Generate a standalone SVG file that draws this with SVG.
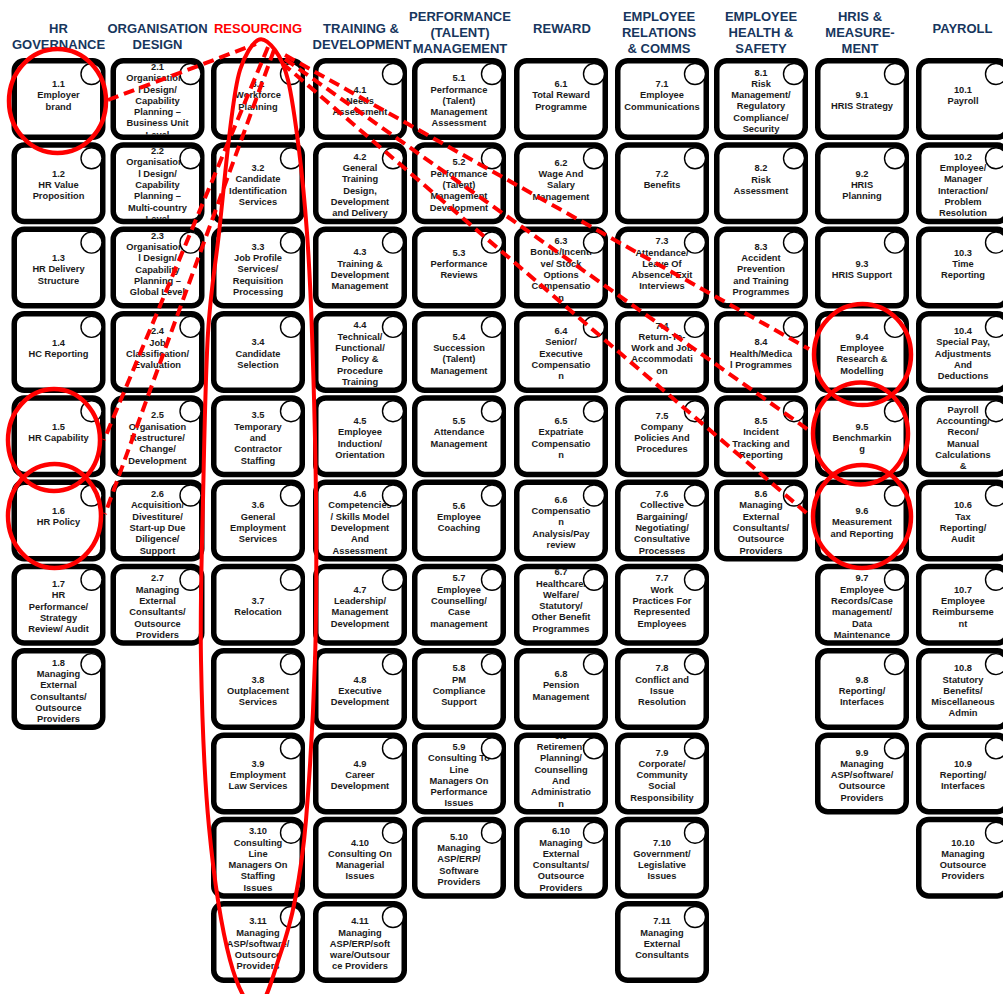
<svg xmlns="http://www.w3.org/2000/svg" xmlns:xlink="http://www.w3.org/1999/xlink" width="1003" height="994" viewBox="0 0 1003 994">
<style>
.t{font-family:"Liberation Sans",Arial,sans-serif;font-weight:bold;font-size:9.3px;fill:#1a1a1a;text-anchor:middle}
.h{font-family:"Liberation Sans",Arial,sans-serif;font-weight:bold;font-size:13px;fill:#17365d;text-anchor:middle}
.hr{fill:#ff0000}
.b{fill:#fff;stroke:#000;stroke-width:5.5}
.c{fill:#fff;stroke:#000;stroke-width:1.4}
.re{fill:none;stroke:#ff0000;stroke-width:4.5}
.rl{fill:none;stroke:#ff0000;stroke-width:4}
.rd{fill:none;stroke:#ff0000;stroke-width:4;stroke-dasharray:11 6}
</style>
<defs>
<rect id="bx" class="b" x="2.75" y="2.75" width="88.5" height="76.5" rx="10"/>
<circle id="ci" class="c" cx="80" cy="16" r="10.5"/>
<clipPath id="cp"><rect x="5.5" y="5.5" width="83" height="71" rx="6"/></clipPath>
</defs>
<rect width="1003" height="994" fill="#fff"/>
<g id="headers">
<text class="h" x="58.5" y="33">HR</text><text class="h" x="58.5" y="49">GOVERNANCE</text>
<text class="h" x="157.5" y="33">ORGANISATION</text><text class="h" x="157.5" y="49">DESIGN</text>
<text class="h hr" x="258" y="33">RESOURCING</text>
<text class="h" x="361" y="33">TRAINING &amp;</text><text class="h" x="362" y="49">DEVELOPMENT</text>
<text class="h" x="460" y="20.5">PERFORMANCE</text><text class="h" x="460" y="36.5">(TALENT)</text><text class="h" x="460" y="52.5">MANAGEMENT</text>
<text class="h" x="562" y="33">REWARD</text>
<text class="h" x="659" y="20.5">EMPLOYEE</text><text class="h" x="659" y="36.5">RELATIONS</text><text class="h" x="659" y="52.5">&amp; COMMS</text>
<text class="h" x="761" y="20.5">EMPLOYEE</text><text class="h" x="761" y="36.5">HEALTH &amp;</text><text class="h" x="761" y="52.5">SAFETY</text>
<text class="h" x="860" y="20.5">HRIS &amp;</text><text class="h" x="860" y="36.5">MEASURE-</text><text class="h" x="860" y="52.5">MENT</text>
<text class="h" x="962.5" y="33">PAYROLL</text>
</g>

<g id="n1-1" transform="translate(11.5,58)"><use href="#bx"/><text class="t" y="29" clip-path="url(#cp)"><tspan x="47">1.1</tspan><tspan x="47" dy="11.3">Employer</tspan><tspan x="47" dy="11.3">brand</tspan></text><use href="#ci"/></g>
<g id="n1-2" transform="translate(11.5,142.3)"><use href="#bx"/><text class="t" y="34.5" clip-path="url(#cp)"><tspan x="47">1.2</tspan><tspan x="47" dy="11.3">HR Value</tspan><tspan x="47" dy="11.3">Proposition</tspan></text><use href="#ci"/></g>
<g id="n1-3" transform="translate(11.5,226.6)"><use href="#bx"/><text class="t" y="34.5" clip-path="url(#cp)"><tspan x="47">1.3</tspan><tspan x="47" dy="11.3">HR Delivery</tspan><tspan x="47" dy="11.3">Structure</tspan></text><use href="#ci"/></g>
<g id="n1-4" transform="translate(11.5,310.9)"><use href="#bx"/><text class="t" y="34.65" clip-path="url(#cp)"><tspan x="47">1.4</tspan><tspan x="47" dy="11.3">HC Reporting</tspan></text><use href="#ci"/></g>
<g id="n1-5" transform="translate(11.5,395.2)"><use href="#bx"/><text class="t" y="34.65" clip-path="url(#cp)"><tspan x="47">1.5</tspan><tspan x="47" dy="11.3">HR Capability</tspan></text><use href="#ci"/></g>
<g id="n1-6" transform="translate(11.5,479.5)"><use href="#bx"/><text class="t" y="34.65" clip-path="url(#cp)"><tspan x="47">1.6</tspan><tspan x="47" dy="11.3">HR Policy</tspan></text><use href="#ci"/></g>
<g id="n1-7" transform="translate(11.5,563.8)"><use href="#bx"/><text class="t" y="23.2" clip-path="url(#cp)"><tspan x="47">1.7</tspan><tspan x="47" dy="11.3">HR</tspan><tspan x="47" dy="11.3">Performance/</tspan><tspan x="47" dy="11.3">Strategy</tspan><tspan x="47" dy="11.3">Review/ Audit</tspan></text><use href="#ci"/></g>
<g id="n1-8" transform="translate(11.5,648.1)"><use href="#bx"/><text class="t" y="17.55" clip-path="url(#cp)"><tspan x="47">1.8</tspan><tspan x="47" dy="11.3">Managing</tspan><tspan x="47" dy="11.3">External</tspan><tspan x="47" dy="11.3">Consultants/</tspan><tspan x="47" dy="11.3">Outsource</tspan><tspan x="47" dy="11.3">Providers</tspan></text><use href="#ci"/></g>

<g id="n2-1" transform="translate(110.5,58)"><use href="#bx"/><text class="t" y="11.9" clip-path="url(#cp)"><tspan x="47">2.1</tspan><tspan x="47" dy="11.3">Organisationa</tspan><tspan x="47" dy="11.3">l Design/</tspan><tspan x="47" dy="11.3">Capability</tspan><tspan x="47" dy="11.3">Planning –</tspan><tspan x="47" dy="11.3">Business Unit</tspan><tspan x="47" dy="11.3">Level</tspan></text><use href="#ci"/></g>
<g id="n2-2" transform="translate(110.5,142.3)"><use href="#bx"/><text class="t" y="11.9" clip-path="url(#cp)"><tspan x="47">2.2</tspan><tspan x="47" dy="11.3">Organisationa</tspan><tspan x="47" dy="11.3">l Design/</tspan><tspan x="47" dy="11.3">Capability</tspan><tspan x="47" dy="11.3">Planning –</tspan><tspan x="47" dy="11.3">Multi-country</tspan><tspan x="47" dy="11.3">Level</tspan></text><use href="#ci"/></g>
<g id="n2-3" transform="translate(110.5,226.6)"><use href="#bx"/><text class="t" y="12.05" clip-path="url(#cp)"><tspan x="47">2.3</tspan><tspan x="47" dy="11.3">Organisationa</tspan><tspan x="47" dy="11.3">l Design/</tspan><tspan x="47" dy="11.3">Capability</tspan><tspan x="47" dy="11.3">Planning –</tspan><tspan x="47" dy="11.3">Global Level</tspan></text><use href="#ci"/></g>
<g id="n2-4" transform="translate(110.5,310.9)"><use href="#bx"/><text class="t" y="23.35" clip-path="url(#cp)"><tspan x="47">2.4</tspan><tspan x="47" dy="11.3">Job</tspan><tspan x="47" dy="11.3">Classification/</tspan><tspan x="47" dy="11.3">Evaluation</tspan></text><use href="#ci"/></g>
<g id="n2-5" transform="translate(110.5,395.2)"><use href="#bx"/><text class="t" y="23.2" clip-path="url(#cp)"><tspan x="47">2.5</tspan><tspan x="47" dy="11.3">Organisation</tspan><tspan x="47" dy="11.3">Restructure/</tspan><tspan x="47" dy="11.3">Change/</tspan><tspan x="47" dy="11.3">Development</tspan></text><use href="#ci"/></g>
<g id="n2-6" transform="translate(110.5,479.5)"><use href="#bx"/><text class="t" y="17.55" clip-path="url(#cp)"><tspan x="47">2.6</tspan><tspan x="47" dy="11.3">Acquisition/</tspan><tspan x="47" dy="11.3">Divestiture/</tspan><tspan x="47" dy="11.3">Start-up Due</tspan><tspan x="47" dy="11.3">Diligence/</tspan><tspan x="47" dy="11.3">Support</tspan></text><use href="#ci"/></g>
<g id="n2-7" transform="translate(110.5,563.8)"><use href="#bx"/><text class="t" y="17.55" clip-path="url(#cp)"><tspan x="47">2.7</tspan><tspan x="47" dy="11.3">Managing</tspan><tspan x="47" dy="11.3">External</tspan><tspan x="47" dy="11.3">Consultants/</tspan><tspan x="47" dy="11.3">Outsource</tspan><tspan x="47" dy="11.3">Providers</tspan></text><use href="#ci"/></g>

<g id="n3-1" transform="translate(211,58)"><use href="#bx"/><text class="t" y="29" clip-path="url(#cp)"><tspan x="47">3.1</tspan><tspan x="47" dy="11.3">Workforce</tspan><tspan x="47" dy="11.3">Planning</tspan></text><use href="#ci"/></g>
<g id="n3-2" transform="translate(211,142.3)"><use href="#bx"/><text class="t" y="28.85" clip-path="url(#cp)"><tspan x="47">3.2</tspan><tspan x="47" dy="11.3">Candidate</tspan><tspan x="47" dy="11.3">Identification</tspan><tspan x="47" dy="11.3">Services</tspan></text><use href="#ci"/></g>
<g id="n3-3" transform="translate(211,226.6)"><use href="#bx"/><text class="t" y="23.2" clip-path="url(#cp)"><tspan x="47">3.3</tspan><tspan x="47" dy="11.3">Job Profile</tspan><tspan x="47" dy="11.3">Services/</tspan><tspan x="47" dy="11.3">Requisition</tspan><tspan x="47" dy="11.3">Processing</tspan></text><use href="#ci"/></g>
<g id="n3-4" transform="translate(211,310.9)"><use href="#bx"/><text class="t" y="34.5" clip-path="url(#cp)"><tspan x="47">3.4</tspan><tspan x="47" dy="11.3">Candidate</tspan><tspan x="47" dy="11.3">Selection</tspan></text><use href="#ci"/></g>
<g id="n3-5" transform="translate(211,395.2)"><use href="#bx"/><text class="t" y="23.2" clip-path="url(#cp)"><tspan x="47">3.5</tspan><tspan x="47" dy="11.3">Temporary</tspan><tspan x="47" dy="11.3">and</tspan><tspan x="47" dy="11.3">Contractor</tspan><tspan x="47" dy="11.3">Staffing</tspan></text><use href="#ci"/></g>
<g id="n3-6" transform="translate(211,479.5)"><use href="#bx"/><text class="t" y="28.85" clip-path="url(#cp)"><tspan x="47">3.6</tspan><tspan x="47" dy="11.3">General</tspan><tspan x="47" dy="11.3">Employment</tspan><tspan x="47" dy="11.3">Services</tspan></text><use href="#ci"/></g>
<g id="n3-7" transform="translate(211,563.8)"><use href="#bx"/><text class="t" y="40.15" clip-path="url(#cp)"><tspan x="47">3.7</tspan><tspan x="47" dy="11.3">Relocation</tspan></text><use href="#ci"/></g>
<g id="n3-8" transform="translate(211,648.1)"><use href="#bx"/><text class="t" y="34.5" clip-path="url(#cp)"><tspan x="47">3.8</tspan><tspan x="47" dy="11.3">Outplacement</tspan><tspan x="47" dy="11.3">Services</tspan></text><use href="#ci"/></g>
<g id="n3-9" transform="translate(211,732.4)"><use href="#bx"/><text class="t" y="34.5" clip-path="url(#cp)"><tspan x="47">3.9</tspan><tspan x="47" dy="11.3">Employment</tspan><tspan x="47" dy="11.3">Law Services</tspan></text><use href="#ci"/></g>
<g id="n3-10" transform="translate(211,816.7)"><use href="#bx"/><text class="t" y="17.55" clip-path="url(#cp)"><tspan x="47">3.10</tspan><tspan x="47" dy="11.3">Consulting</tspan><tspan x="47" dy="11.3">Line</tspan><tspan x="47" dy="11.3">Managers On</tspan><tspan x="47" dy="11.3">Staffing</tspan><tspan x="47" dy="11.3">Issues</tspan></text><use href="#ci"/></g>
<g id="n3-11" transform="translate(211,901)"><use href="#bx"/><text class="t" y="23.2" clip-path="url(#cp)"><tspan x="47">3.11</tspan><tspan x="47" dy="11.3">Managing</tspan><tspan x="47" dy="11.3">ASP/software/</tspan><tspan x="47" dy="11.3">Outsource</tspan><tspan x="47" dy="11.3">Providers</tspan></text><use href="#ci"/></g>

<g id="n4-1" transform="translate(313,58)"><use href="#bx"/><text class="t" y="34.5" clip-path="url(#cp)"><tspan x="47">4.1</tspan><tspan x="47" dy="11.3">Needs</tspan><tspan x="47" dy="11.3">Assessment</tspan></text><use href="#ci"/></g>
<g id="n4-2" transform="translate(313,142.3)"><use href="#bx"/><text class="t" y="17.55" clip-path="url(#cp)"><tspan x="47">4.2</tspan><tspan x="47" dy="11.3">General</tspan><tspan x="47" dy="11.3">Training</tspan><tspan x="47" dy="11.3">Design,</tspan><tspan x="47" dy="11.3">Development</tspan><tspan x="47" dy="11.3">and Delivery</tspan></text><use href="#ci"/></g>
<g id="n4-3" transform="translate(313,226.6)"><use href="#bx"/><text class="t" y="28.85" clip-path="url(#cp)"><tspan x="47">4.3</tspan><tspan x="47" dy="11.3">Training &amp;</tspan><tspan x="47" dy="11.3">Development</tspan><tspan x="47" dy="11.3">Management</tspan></text><use href="#ci"/></g>
<g id="n4-4" transform="translate(313,310.9)"><use href="#bx"/><text class="t" y="17.55" clip-path="url(#cp)"><tspan x="47">4.4</tspan><tspan x="47" dy="11.3">Technical/</tspan><tspan x="47" dy="11.3">Functional/</tspan><tspan x="47" dy="11.3">Policy &amp;</tspan><tspan x="47" dy="11.3">Procedure</tspan><tspan x="47" dy="11.3">Training</tspan></text><use href="#ci"/></g>
<g id="n4-5" transform="translate(313,395.2)"><use href="#bx"/><text class="t" y="28.85" clip-path="url(#cp)"><tspan x="47">4.5</tspan><tspan x="47" dy="11.3">Employee</tspan><tspan x="47" dy="11.3">Induction/</tspan><tspan x="47" dy="11.3">Orientation</tspan></text><use href="#ci"/></g>
<g id="n4-6" transform="translate(313,479.5)"><use href="#bx"/><text class="t" y="17.55" clip-path="url(#cp)"><tspan x="47">4.6</tspan><tspan x="47" dy="11.3">Competencies</tspan><tspan x="47" dy="11.3">/ Skills Model</tspan><tspan x="47" dy="11.3">Development</tspan><tspan x="47" dy="11.3">And</tspan><tspan x="47" dy="11.3">Assessment</tspan></text><use href="#ci"/></g>
<g id="n4-7" transform="translate(313,563.8)"><use href="#bx"/><text class="t" y="28.85" clip-path="url(#cp)"><tspan x="47">4.7</tspan><tspan x="47" dy="11.3">Leadership/</tspan><tspan x="47" dy="11.3">Management</tspan><tspan x="47" dy="11.3">Development</tspan></text><use href="#ci"/></g>
<g id="n4-8" transform="translate(313,648.1)"><use href="#bx"/><text class="t" y="34.5" clip-path="url(#cp)"><tspan x="47">4.8</tspan><tspan x="47" dy="11.3">Executive</tspan><tspan x="47" dy="11.3">Development</tspan></text><use href="#ci"/></g>
<g id="n4-9" transform="translate(313,732.4)"><use href="#bx"/><text class="t" y="34.5" clip-path="url(#cp)"><tspan x="47">4.9</tspan><tspan x="47" dy="11.3">Career</tspan><tspan x="47" dy="11.3">Development</tspan></text><use href="#ci"/></g>
<g id="n4-10" transform="translate(313,816.7)"><use href="#bx"/><text class="t" y="28.85" clip-path="url(#cp)"><tspan x="47">4.10</tspan><tspan x="47" dy="11.3">Consulting On</tspan><tspan x="47" dy="11.3">Managerial</tspan><tspan x="47" dy="11.3">Issues</tspan></text><use href="#ci"/></g>
<g id="n4-11" transform="translate(313,901)"><use href="#bx"/><text class="t" y="23.2" clip-path="url(#cp)"><tspan x="47">4.11</tspan><tspan x="47" dy="11.3">Managing</tspan><tspan x="47" dy="11.3">ASP/ERP/soft</tspan><tspan x="47" dy="11.3">ware/Outsour</tspan><tspan x="47" dy="11.3">ce Providers</tspan></text><use href="#ci"/></g>

<g id="n5-1" transform="translate(412,58)"><use href="#bx"/><text class="t" y="23.2" clip-path="url(#cp)"><tspan x="47">5.1</tspan><tspan x="47" dy="11.3">Performance</tspan><tspan x="47" dy="11.3">(Talent)</tspan><tspan x="47" dy="11.3">Management</tspan><tspan x="47" dy="11.3">Assessment</tspan></text><use href="#ci"/></g>
<g id="n5-2" transform="translate(412,142.3)"><use href="#bx"/><text class="t" y="23.2" clip-path="url(#cp)"><tspan x="47">5.2</tspan><tspan x="47" dy="11.3">Performance</tspan><tspan x="47" dy="11.3">(Talent)</tspan><tspan x="47" dy="11.3">Management</tspan><tspan x="47" dy="11.3">Development</tspan></text><use href="#ci"/></g>
<g id="n5-3" transform="translate(412,226.6)"><use href="#bx"/><text class="t" y="29" clip-path="url(#cp)"><tspan x="47">5.3</tspan><tspan x="47" dy="11.3">Performance</tspan><tspan x="47" dy="11.3">Reviews</tspan></text><use href="#ci"/></g>
<g id="n5-4" transform="translate(412,310.9)"><use href="#bx"/><text class="t" y="28.85" clip-path="url(#cp)"><tspan x="47">5.4</tspan><tspan x="47" dy="11.3">Succession</tspan><tspan x="47" dy="11.3">(Talent)</tspan><tspan x="47" dy="11.3">Management</tspan></text><use href="#ci"/></g>
<g id="n5-5" transform="translate(412,395.2)"><use href="#bx"/><text class="t" y="29" clip-path="url(#cp)"><tspan x="47">5.5</tspan><tspan x="47" dy="11.3">Attendance</tspan><tspan x="47" dy="11.3">Management</tspan></text><use href="#ci"/></g>
<g id="n5-6" transform="translate(412,479.5)"><use href="#bx"/><text class="t" y="29" clip-path="url(#cp)"><tspan x="47">5.6</tspan><tspan x="47" dy="11.3">Employee</tspan><tspan x="47" dy="11.3">Coaching</tspan></text><use href="#ci"/></g>
<g id="n5-7" transform="translate(412,563.8)"><use href="#bx"/><text class="t" y="17.7" clip-path="url(#cp)"><tspan x="47">5.7</tspan><tspan x="47" dy="11.3">Employee</tspan><tspan x="47" dy="11.3">Counselling/</tspan><tspan x="47" dy="11.3">Case</tspan><tspan x="47" dy="11.3">management</tspan></text><use href="#ci"/></g>
<g id="n5-8" transform="translate(412,648.1)"><use href="#bx"/><text class="t" y="23.35" clip-path="url(#cp)"><tspan x="47">5.8</tspan><tspan x="47" dy="11.3">PM</tspan><tspan x="47" dy="11.3">Compliance</tspan><tspan x="47" dy="11.3">Support</tspan></text><use href="#ci"/></g>
<g id="n5-9" transform="translate(412,732.4)"><use href="#bx"/><text class="t" y="17.55" clip-path="url(#cp)"><tspan x="47">5.9</tspan><tspan x="47" dy="11.3">Consulting To</tspan><tspan x="47" dy="11.3">Line</tspan><tspan x="47" dy="11.3">Managers On</tspan><tspan x="47" dy="11.3">Performance</tspan><tspan x="47" dy="11.3">Issues</tspan></text><use href="#ci"/></g>
<g id="n5-10" transform="translate(412,816.7)"><use href="#bx"/><text class="t" y="23.2" clip-path="url(#cp)"><tspan x="47">5.10</tspan><tspan x="47" dy="11.3">Managing</tspan><tspan x="47" dy="11.3">ASP/ERP/</tspan><tspan x="47" dy="11.3">Software</tspan><tspan x="47" dy="11.3">Providers</tspan></text><use href="#ci"/></g>

<g id="n6-1" transform="translate(514,58)"><use href="#bx"/><text class="t" y="29" clip-path="url(#cp)"><tspan x="47">6.1</tspan><tspan x="47" dy="11.3">Total Reward</tspan><tspan x="47" dy="11.3">Programme</tspan></text><use href="#ci"/></g>
<g id="n6-2" transform="translate(514,142.3)"><use href="#bx"/><text class="t" y="23.35" clip-path="url(#cp)"><tspan x="47">6.2</tspan><tspan x="47" dy="11.3">Wage And</tspan><tspan x="47" dy="11.3">Salary</tspan><tspan x="47" dy="11.3">Management</tspan></text><use href="#ci"/></g>
<g id="n6-3" transform="translate(514,226.6)"><use href="#bx"/><text class="t" y="17.55" clip-path="url(#cp)"><tspan x="47">6.3</tspan><tspan x="47" dy="11.3">Bonus/Incenti</tspan><tspan x="47" dy="11.3">ve/ Stock</tspan><tspan x="47" dy="11.3">Options</tspan><tspan x="47" dy="11.3">Compensatio</tspan><tspan x="47" dy="11.3">n</tspan></text><use href="#ci"/></g>
<g id="n6-4" transform="translate(514,310.9)"><use href="#bx"/><text class="t" y="23.2" clip-path="url(#cp)"><tspan x="47">6.4</tspan><tspan x="47" dy="11.3">Senior/</tspan><tspan x="47" dy="11.3">Executive</tspan><tspan x="47" dy="11.3">Compensatio</tspan><tspan x="47" dy="11.3">n</tspan></text><use href="#ci"/></g>
<g id="n6-5" transform="translate(514,395.2)"><use href="#bx"/><text class="t" y="28.85" clip-path="url(#cp)"><tspan x="47">6.5</tspan><tspan x="47" dy="11.3">Expatriate</tspan><tspan x="47" dy="11.3">Compensatio</tspan><tspan x="47" dy="11.3">n</tspan></text><use href="#ci"/></g>
<g id="n6-6" transform="translate(514,479.5)"><use href="#bx"/><text class="t" y="23.2" clip-path="url(#cp)"><tspan x="47">6.6</tspan><tspan x="47" dy="11.3">Compensatio</tspan><tspan x="47" dy="11.3">n</tspan><tspan x="47" dy="11.3">Analysis/Pay</tspan><tspan x="47" dy="11.3">review</tspan></text><use href="#ci"/></g>
<g id="n6-7" transform="translate(514,563.8)"><use href="#bx"/><text class="t" y="11.5" clip-path="url(#cp)"><tspan x="47">6.7</tspan><tspan x="47" dy="11.3">Healthcare/</tspan><tspan x="47" dy="11.3">Welfare/</tspan><tspan x="47" dy="11.3">Statutory/</tspan><tspan x="47" dy="11.3">Other Benefit</tspan><tspan x="47" dy="11.3">Programmes</tspan></text><use href="#ci"/></g>
<g id="n6-8" transform="translate(514,648.1)"><use href="#bx"/><text class="t" y="29" clip-path="url(#cp)"><tspan x="47">6.8</tspan><tspan x="47" dy="11.3">Pension</tspan><tspan x="47" dy="11.3">Management</tspan></text><use href="#ci"/></g>
<g id="n6-9" transform="translate(514,732.4)"><use href="#bx"/><text class="t" y="6.4" clip-path="url(#cp)"><tspan x="47">6.9</tspan><tspan x="47" dy="11.3">Retirement</tspan><tspan x="47" dy="11.3">Planning/</tspan><tspan x="47" dy="11.3">Counselling</tspan><tspan x="47" dy="11.3">And</tspan><tspan x="47" dy="11.3">Administratio</tspan><tspan x="47" dy="11.3">n</tspan></text><use href="#ci"/></g>
<g id="n6-10" transform="translate(514,816.7)"><use href="#bx"/><text class="t" y="17.55" clip-path="url(#cp)"><tspan x="47">6.10</tspan><tspan x="47" dy="11.3">Managing</tspan><tspan x="47" dy="11.3">External</tspan><tspan x="47" dy="11.3">Consultants/</tspan><tspan x="47" dy="11.3">Outsource</tspan><tspan x="47" dy="11.3">Providers</tspan></text><use href="#ci"/></g>

<g id="n7-1" transform="translate(615,58)"><use href="#bx"/><text class="t" y="29" clip-path="url(#cp)"><tspan x="47">7.1</tspan><tspan x="47" dy="11.3">Employee</tspan><tspan x="47" dy="11.3">Communications</tspan></text><use href="#ci"/></g>
<g id="n7-2" transform="translate(615,142.3)"><use href="#bx"/><text class="t" y="34.65" clip-path="url(#cp)"><tspan x="47">7.2</tspan><tspan x="47" dy="11.3">Benefits</tspan></text><use href="#ci"/></g>
<g id="n7-3" transform="translate(615,226.6)"><use href="#bx"/><text class="t" y="17.7" clip-path="url(#cp)"><tspan x="47">7.3</tspan><tspan x="47" dy="11.3">Attendance/</tspan><tspan x="47" dy="11.3">Leave Of</tspan><tspan x="47" dy="11.3">Absence/ Exit</tspan><tspan x="47" dy="11.3">Interviews</tspan></text><use href="#ci"/></g>
<g id="n7-4" transform="translate(615,310.9)"><use href="#bx"/><text class="t" y="17.7" clip-path="url(#cp)"><tspan x="47">7.4</tspan><tspan x="47" dy="11.3">Return-To-</tspan><tspan x="47" dy="11.3">Work and Job</tspan><tspan x="47" dy="11.3">Accommodati</tspan><tspan x="47" dy="11.3">on</tspan></text><use href="#ci"/></g>
<g id="n7-5" transform="translate(615,395.2)"><use href="#bx"/><text class="t" y="23.35" clip-path="url(#cp)"><tspan x="47">7.5</tspan><tspan x="47" dy="11.3">Company</tspan><tspan x="47" dy="11.3">Policies And</tspan><tspan x="47" dy="11.3">Procedures</tspan></text><use href="#ci"/></g>
<g id="n7-6" transform="translate(615,479.5)"><use href="#bx"/><text class="t" y="17.55" clip-path="url(#cp)"><tspan x="47">7.6</tspan><tspan x="47" dy="11.3">Collective</tspan><tspan x="47" dy="11.3">Bargaining/</tspan><tspan x="47" dy="11.3">Negotiating/</tspan><tspan x="47" dy="11.3">Consultative</tspan><tspan x="47" dy="11.3">Processes</tspan></text><use href="#ci"/></g>
<g id="n7-7" transform="translate(615,563.8)"><use href="#bx"/><text class="t" y="17.7" clip-path="url(#cp)"><tspan x="47">7.7</tspan><tspan x="47" dy="11.3">Work</tspan><tspan x="47" dy="11.3">Practices For</tspan><tspan x="47" dy="11.3">Represented</tspan><tspan x="47" dy="11.3">Employees</tspan></text><use href="#ci"/></g>
<g id="n7-8" transform="translate(615,648.1)"><use href="#bx"/><text class="t" y="23.35" clip-path="url(#cp)"><tspan x="47">7.8</tspan><tspan x="47" dy="11.3">Conflict and</tspan><tspan x="47" dy="11.3">Issue</tspan><tspan x="47" dy="11.3">Resolution</tspan></text><use href="#ci"/></g>
<g id="n7-9" transform="translate(615,732.4)"><use href="#bx"/><text class="t" y="23.2" clip-path="url(#cp)"><tspan x="47">7.9</tspan><tspan x="47" dy="11.3">Corporate/</tspan><tspan x="47" dy="11.3">Community</tspan><tspan x="47" dy="11.3">Social</tspan><tspan x="47" dy="11.3">Responsibility</tspan></text><use href="#ci"/></g>
<g id="n7-10" transform="translate(615,816.7)"><use href="#bx"/><text class="t" y="28.85" clip-path="url(#cp)"><tspan x="47">7.10</tspan><tspan x="47" dy="11.3">Government/</tspan><tspan x="47" dy="11.3">Legislative</tspan><tspan x="47" dy="11.3">Issues</tspan></text><use href="#ci"/></g>
<g id="n7-11" transform="translate(615,901)"><use href="#bx"/><text class="t" y="23.35" clip-path="url(#cp)"><tspan x="47">7.11</tspan><tspan x="47" dy="11.3">Managing</tspan><tspan x="47" dy="11.3">External</tspan><tspan x="47" dy="11.3">Consultants</tspan></text><use href="#ci"/></g>

<g id="n8-1" transform="translate(714,58)"><use href="#bx"/><text class="t" y="17.55" clip-path="url(#cp)"><tspan x="47">8.1</tspan><tspan x="47" dy="11.3">Risk</tspan><tspan x="47" dy="11.3">Management/</tspan><tspan x="47" dy="11.3">Regulatory</tspan><tspan x="47" dy="11.3">Compliance/</tspan><tspan x="47" dy="11.3">Security</tspan></text><use href="#ci"/></g>
<g id="n8-2" transform="translate(714,142.3)"><use href="#bx"/><text class="t" y="29" clip-path="url(#cp)"><tspan x="47">8.2</tspan><tspan x="47" dy="11.3">Risk</tspan><tspan x="47" dy="11.3">Assessment</tspan></text><use href="#ci"/></g>
<g id="n8-3" transform="translate(714,226.6)"><use href="#bx"/><text class="t" y="23.2" clip-path="url(#cp)"><tspan x="47">8.3</tspan><tspan x="47" dy="11.3">Accident</tspan><tspan x="47" dy="11.3">Prevention</tspan><tspan x="47" dy="11.3">and Training</tspan><tspan x="47" dy="11.3">Programmes</tspan></text><use href="#ci"/></g>
<g id="n8-4" transform="translate(714,310.9)"><use href="#bx"/><text class="t" y="34.5" clip-path="url(#cp)"><tspan x="47">8.4</tspan><tspan x="47" dy="11.3">Health/Medica</tspan><tspan x="47" dy="11.3">l Programmes</tspan></text><use href="#ci"/></g>
<g id="n8-5" transform="translate(714,395.2)"><use href="#bx"/><text class="t" y="28.85" clip-path="url(#cp)"><tspan x="47">8.5</tspan><tspan x="47" dy="11.3">Incident</tspan><tspan x="47" dy="11.3">Tracking and</tspan><tspan x="47" dy="11.3">Reporting</tspan></text><use href="#ci"/></g>
<g id="n8-6" transform="translate(714,479.5)"><use href="#bx"/><text class="t" y="17.55" clip-path="url(#cp)"><tspan x="47">8.6</tspan><tspan x="47" dy="11.3">Managing</tspan><tspan x="47" dy="11.3">External</tspan><tspan x="47" dy="11.3">Consultants/</tspan><tspan x="47" dy="11.3">Outsource</tspan><tspan x="47" dy="11.3">Providers</tspan></text><use href="#ci"/></g>

<g id="n9-1" transform="translate(815,58)"><use href="#bx"/><text class="t" y="40.15" clip-path="url(#cp)"><tspan x="47">9.1</tspan><tspan x="47" dy="11.3">HRIS Strategy</tspan></text><use href="#ci"/></g>
<g id="n9-2" transform="translate(815,142.3)"><use href="#bx"/><text class="t" y="34.5" clip-path="url(#cp)"><tspan x="47">9.2</tspan><tspan x="47" dy="11.3">HRIS</tspan><tspan x="47" dy="11.3">Planning</tspan></text><use href="#ci"/></g>
<g id="n9-3" transform="translate(815,226.6)"><use href="#bx"/><text class="t" y="40.15" clip-path="url(#cp)"><tspan x="47">9.3</tspan><tspan x="47" dy="11.3">HRIS Support</tspan></text><use href="#ci"/></g>
<g id="n9-4" transform="translate(815,310.9)"><use href="#bx"/><text class="t" y="28.85" clip-path="url(#cp)"><tspan x="47">9.4</tspan><tspan x="47" dy="11.3">Employee</tspan><tspan x="47" dy="11.3">Research &amp;</tspan><tspan x="47" dy="11.3">Modelling</tspan></text><use href="#ci"/></g>
<g id="n9-5" transform="translate(815,395.2)"><use href="#bx"/><text class="t" y="34.5" clip-path="url(#cp)"><tspan x="47">9.5</tspan><tspan x="47" dy="11.3">Benchmarkin</tspan><tspan x="47" dy="11.3">g</tspan></text><use href="#ci"/></g>
<g id="n9-6" transform="translate(815,479.5)"><use href="#bx"/><text class="t" y="34.5" clip-path="url(#cp)"><tspan x="47">9.6</tspan><tspan x="47" dy="11.3">Measurement</tspan><tspan x="47" dy="11.3">and Reporting</tspan></text><use href="#ci"/></g>
<g id="n9-7" transform="translate(815,563.8)"><use href="#bx"/><text class="t" y="17.55" clip-path="url(#cp)"><tspan x="47">9.7</tspan><tspan x="47" dy="11.3">Employee</tspan><tspan x="47" dy="11.3">Records/Case</tspan><tspan x="47" dy="11.3">management/</tspan><tspan x="47" dy="11.3">Data</tspan><tspan x="47" dy="11.3">Maintenance</tspan></text><use href="#ci"/></g>
<g id="n9-8" transform="translate(815,648.1)"><use href="#bx"/><text class="t" y="34.5" clip-path="url(#cp)"><tspan x="47">9.8</tspan><tspan x="47" dy="11.3">Reporting/</tspan><tspan x="47" dy="11.3">Interfaces</tspan></text><use href="#ci"/></g>
<g id="n9-9" transform="translate(815,732.4)"><use href="#bx"/><text class="t" y="23.2" clip-path="url(#cp)"><tspan x="47">9.9</tspan><tspan x="47" dy="11.3">Managing</tspan><tspan x="47" dy="11.3">ASP/software/</tspan><tspan x="47" dy="11.3">Outsource</tspan><tspan x="47" dy="11.3">Providers</tspan></text><use href="#ci"/></g>

<g id="n10-1" transform="translate(916,58)"><use href="#bx"/><text class="t" y="34.65" clip-path="url(#cp)"><tspan x="47">10.1</tspan><tspan x="47" dy="11.3">Payroll</tspan></text><use href="#ci"/></g>
<g id="n10-2" transform="translate(916,142.3)"><use href="#bx"/><text class="t" y="17.55" clip-path="url(#cp)"><tspan x="47">10.2</tspan><tspan x="47" dy="11.3">Employee/</tspan><tspan x="47" dy="11.3">Manager</tspan><tspan x="47" dy="11.3">Interaction/</tspan><tspan x="47" dy="11.3">Problem</tspan><tspan x="47" dy="11.3">Resolution</tspan></text><use href="#ci"/></g>
<g id="n10-3" transform="translate(916,226.6)"><use href="#bx"/><text class="t" y="29" clip-path="url(#cp)"><tspan x="47">10.3</tspan><tspan x="47" dy="11.3">Time</tspan><tspan x="47" dy="11.3">Reporting</tspan></text><use href="#ci"/></g>
<g id="n10-4" transform="translate(916,310.9)"><use href="#bx"/><text class="t" y="23.2" clip-path="url(#cp)"><tspan x="47">10.4</tspan><tspan x="47" dy="11.3">Special Pay,</tspan><tspan x="47" dy="11.3">Adjustments</tspan><tspan x="47" dy="11.3">And</tspan><tspan x="47" dy="11.3">Deductions</tspan></text><use href="#ci"/></g>
<g id="n10-5" transform="translate(916,395.2)"><use href="#bx"/><text class="t" y="6.25" clip-path="url(#cp)"><tspan x="47">10.5</tspan><tspan x="47" dy="11.3">Payroll</tspan><tspan x="47" dy="11.3">Accounting/</tspan><tspan x="47" dy="11.3">Recon/</tspan><tspan x="47" dy="11.3">Manual</tspan><tspan x="47" dy="11.3">Calculations</tspan><tspan x="47" dy="11.3">&amp;</tspan></text><use href="#ci"/></g>
<g id="n10-6" transform="translate(916,479.5)"><use href="#bx"/><text class="t" y="28.85" clip-path="url(#cp)"><tspan x="47">10.6</tspan><tspan x="47" dy="11.3">Tax</tspan><tspan x="47" dy="11.3">Reporting/</tspan><tspan x="47" dy="11.3">Audit</tspan></text><use href="#ci"/></g>
<g id="n10-7" transform="translate(916,563.8)"><use href="#bx"/><text class="t" y="28.85" clip-path="url(#cp)"><tspan x="47">10.7</tspan><tspan x="47" dy="11.3">Employee</tspan><tspan x="47" dy="11.3">Reimburseme</tspan><tspan x="47" dy="11.3">nt</tspan></text><use href="#ci"/></g>
<g id="n10-8" transform="translate(916,648.1)"><use href="#bx"/><text class="t" y="23.2" clip-path="url(#cp)"><tspan x="47">10.8</tspan><tspan x="47" dy="11.3">Statutory</tspan><tspan x="47" dy="11.3">Benefits/</tspan><tspan x="47" dy="11.3">Miscellaneous</tspan><tspan x="47" dy="11.3">Admin</tspan></text><use href="#ci"/></g>
<g id="n10-9" transform="translate(916,732.4)"><use href="#bx"/><text class="t" y="34.5" clip-path="url(#cp)"><tspan x="47">10.9</tspan><tspan x="47" dy="11.3">Reporting/</tspan><tspan x="47" dy="11.3">Interfaces</tspan></text><use href="#ci"/></g>
<g id="n10-10" transform="translate(916,816.7)"><use href="#bx"/><text class="t" y="28.85" clip-path="url(#cp)"><tspan x="47">10.10</tspan><tspan x="47" dy="11.3">Managing</tspan><tspan x="47" dy="11.3">Outsource</tspan><tspan x="47" dy="11.3">Providers</tspan></text><use href="#ci"/></g>

<g id="connectors">
<ellipse class="re" cx="57.5" cy="101" rx="48.5" ry="52"/>
<ellipse class="re" cx="54" cy="440" rx="46" ry="51"/>
<ellipse class="re" cx="54.5" cy="516" rx="46.5" ry="52"/>
<ellipse class="re" cx="862.5" cy="354.5" rx="48.5" ry="50.5"/>
<ellipse class="re" cx="860.5" cy="433.5" rx="47.5" ry="51"/>
<ellipse class="re" cx="862" cy="516.5" rx="49" ry="51.5"/>
<path class="rl" d="M258,40 C252.2,43.3 244.7,55 240,70 C235.3,85 233.5,102.8 230,130 C226.5,157.2 222.7,199.2 219,233 C215.3,266.8 210.7,288.5 208,333 C205.3,377.5 204.2,445.5 203,500 C201.8,554.5 200,605.5 201,660 C202,714.5 204.2,777 209,827 C213.8,877 222,929.8 230,960 C238,990.2 248.7,1008.8 257,1008 C265.3,1007.2 273.7,973 280,955 C286.3,937 290.7,922.5 295,900 C299.3,877.5 302.7,860 306,820 C309.3,780 313.3,713.3 315,660 C316.7,606.7 316.5,554.5 316,500 C315.5,445.5 313.5,377.5 312,333 C310.5,288.5 309.2,263.5 307,233 C304.8,202.5 302.2,175.5 299,150 C295.8,124.5 292,96.7 288,80 C284,63.3 280,56.7 275,50 C270,43.3 263.8,36.7 258,40 Z"/>
<path class="rd" d="M108,100 L256,44"/>
<path class="rd" d="M268,47 L104,440"/>
<path class="rd" d="M274,50 L105,514"/>
<path class="rd" d="M285,55 L809,349"/>
<path class="rd" d="M285,59 L810,431"/>
<path class="rd" d="M282,63 L810,516"/>
</g>
</svg>
